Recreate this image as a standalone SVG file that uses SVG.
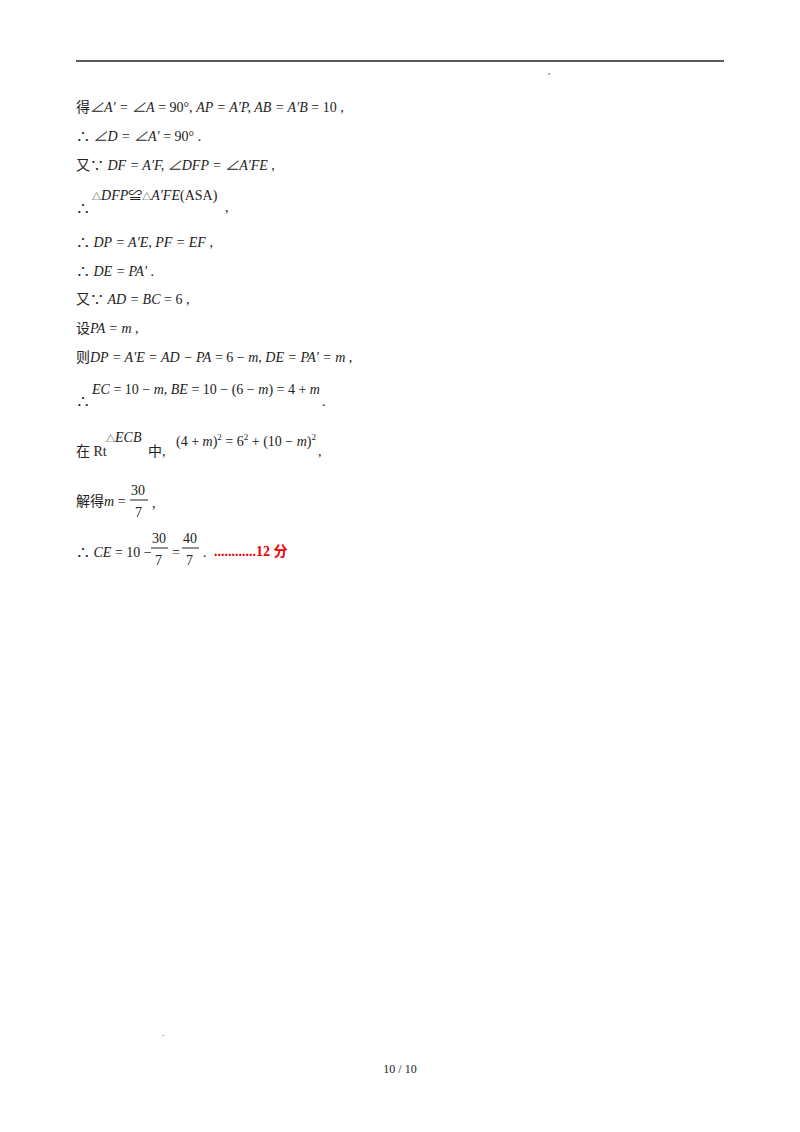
<svg xmlns="http://www.w3.org/2000/svg" width="800" height="1132" viewBox="0 0 800 1132">
<style>
text{font-family:"Liberation Serif","Noto Sans CJK SC",serif;font-size:14px;fill:#222}
.i{font-style:italic}
.r{fill:#e00;font-weight:bold;font-size:14px}
.s{font-size:9px}
</style>
<rect width="800" height="1132" fill="#fff"/>
<line x1="76" y1="61" x2="724" y2="61" stroke="#222" stroke-width="1.5"/>
<text x="548" y="74" class="s" fill="#999">,</text>
<g id="lines">
<text x="76" y="112">得<tspan class="i">∠A′ = ∠A</tspan> = 90°, <tspan class="i">AP = A′P, AB = A′B</tspan> = 10 ,</text>
<text x="76" y="141">∴ <tspan class="i">∠D = ∠A′</tspan> = 90° .</text>
<text x="76" y="170">又∵ <tspan class="i">DF = A′F, ∠DFP = ∠A′FE</tspan> ,</text>
<text x="76" y="213">∴</text>
<text x="92" y="200"><tspan class="s">△</tspan><tspan class="i">DFP</tspan>≌<tspan class="s">△</tspan><tspan class="i">A′FE</tspan>(ASA)</text>
<text x="225" y="212">,</text>
<text x="76" y="247">∴ <tspan class="i">DP = A′E, PF = EF</tspan> ,</text>
<text x="76" y="276">∴ <tspan class="i">DE = PA′</tspan> .</text>
<text x="76" y="304">又∵ <tspan class="i">AD = BC</tspan> = 6 ,</text>
<text x="76" y="333">设<tspan class="i">PA = m</tspan> ,</text>
<text x="76" y="362">则<tspan class="i">DP = A′E = AD − PA</tspan> = 6 − <tspan class="i">m, DE = PA′ = m</tspan> ,</text>
<text x="76" y="406">∴</text>
<text x="92" y="394"><tspan class="i">EC</tspan> = 10 − <tspan class="i">m, BE</tspan> = 10 − (6 − <tspan class="i">m</tspan>) = 4 + <tspan class="i">m</tspan></text>
<text x="322" y="406">.</text>
<text x="76" y="456">在 Rt</text>
<text x="106" y="442"><tspan class="s">△</tspan><tspan class="i">ECB</tspan></text>
<text x="148" y="456">中,</text>
<text x="176" y="446">(4 + <tspan class="i">m</tspan>)<tspan class="s" dy="-6">2</tspan><tspan dy="6"> = 6</tspan><tspan class="s" dy="-6">2</tspan><tspan dy="6"> + (10 − </tspan><tspan class="i">m</tspan>)<tspan class="s" dy="-6">2</tspan></text>
<text x="318" y="456">,</text>
<text x="76" y="506">解得<tspan class="i">m</tspan> =</text>
<text x="131" y="495">30</text>
<line x1="130" y1="500" x2="148" y2="500" stroke="#222"/>
<text x="135" y="517">7</text>
<text x="152" y="508">,</text>
<text x="76" y="557">∴ <tspan class="i">CE</tspan> = 10 −</text>
<text x="152" y="543">30</text>
<line x1="151" y1="548" x2="168" y2="548" stroke="#222"/>
<text x="155" y="565">7</text>
<text x="172" y="557">=</text>
<text x="183" y="543">40</text>
<line x1="182" y1="548" x2="199" y2="548" stroke="#222"/>
<text x="186" y="565">7</text>
<text x="203" y="557">.</text>
<text x="214" y="556" class="r">............12 分</text>
</g>
<text x="162" y="1036" class="s" fill="#999">.</text>
<text x="400" y="1073" text-anchor="middle" style="font-size:12px">10 / 10</text>
</svg>
